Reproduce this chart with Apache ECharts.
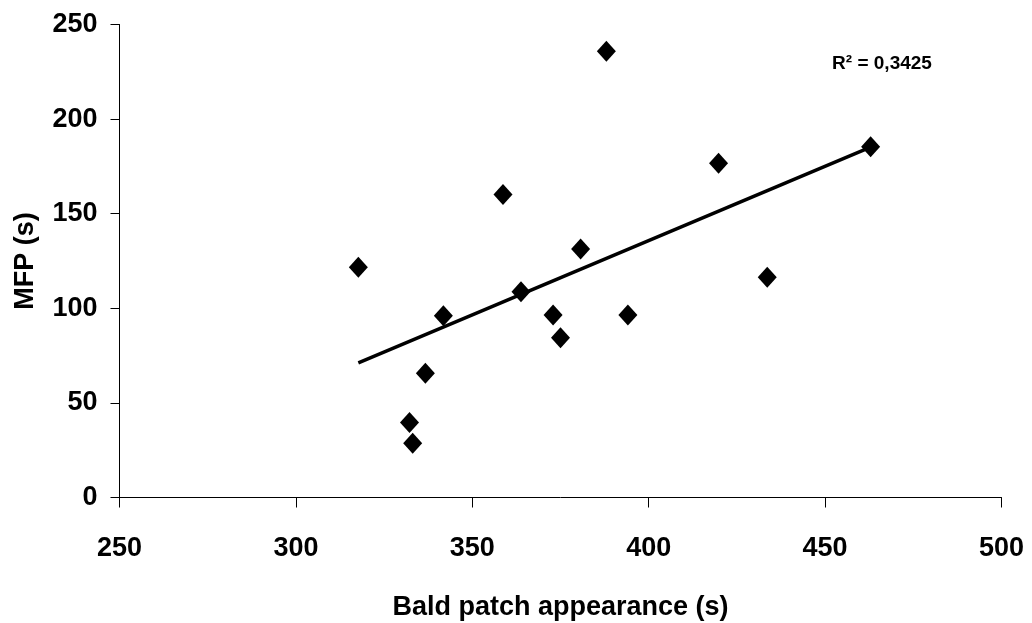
<!DOCTYPE html>
<html>
<head>
<meta charset="utf-8">
<title>MFP vs Bald patch appearance</title>
<script src="https://cdn.jsdelivr.net/npm/echarts@6/dist/echarts.min.js"></script>
<style>
  html, body { margin: 0; padding: 0; background: #fff; }
  #chart { width: 1032px; height: 623px; }
</style>
</head>
<body>
<div id="chart"></div>
<script>
// Bald patch appearance time (s) and MFP (s) for each animal
const baldPatch = [317.7, 341.8, 363.8, 380.7, 372.9, 375.0, 336.7, 332.2, 333.1, 388.0, 358.7, 419.8, 433.6, 394.1, 462.9];
const mfp       = [121.7,  96.0, 108.8, 131.3,  96.5,  84.5,  65.7,  39.6,  28.7, 235.9, 160.2, 176.6, 116.4,  96.5, 185.4];

// Linear trend line end points (x, y)
const trendX = [317.7, 462.9];
const trendY = [71.1, 185.2];
const r2Text = 'R² = 0,3425';

// Axis ranges and tick steps
const xAxisRange = [250, 500, 50];
const yAxisRange = [0, 250, 50];

const FONT = "'Liberation Sans', Arial, Helvetica, sans-serif";

const points = baldPatch.map((x, i) => [x, mfp[i]]);
const trend = trendX.map((x, i) => [x, trendY[i]]);

const chart = echarts.init(document.getElementById('chart'), null, { renderer: 'canvas' });
chart.setOption({
  animation: false,
  backgroundColor: '#ffffff',
  grid: {
    left: 119.5, right: 30.5, top: 24.5, bottom: 125.5,
    containLabel: false,
    outerBoundsMode: 'none'
  },
  xAxis: {
    type: 'value',
    min: xAxisRange[0], max: xAxisRange[1], interval: xAxisRange[2],
    name: 'Bald patch appearance (s)',
    nameLocation: 'middle',
    nameGap: 97,
    nameTextStyle: { fontFamily: FONT, fontWeight: 'bold', fontSize: 27, color: '#000' },
    axisLine: { show: true, onZero: false, lineStyle: { color: '#000', width: 1 } },
    axisTick: { show: true, inside: false, length: 10, lineStyle: { color: '#000', width: 1 } },
    axisLabel: { margin: 38, fontFamily: FONT, fontWeight: 'bold', fontSize: 27, color: '#000' },
    splitLine: { show: false }
  },
  yAxis: {
    type: 'value',
    min: yAxisRange[0], max: yAxisRange[1], interval: yAxisRange[2],
    name: 'MFP (s)',
    nameLocation: 'middle',
    nameGap: 80,
    nameRotate: 90,
    nameTextStyle: { fontFamily: FONT, fontWeight: 'bold', fontSize: 27, color: '#000' },
    axisLine: { show: true, onZero: false, lineStyle: { color: '#000', width: 1 } },
    axisTick: { show: true, inside: false, length: 9, lineStyle: { color: '#000', width: 1 } },
    axisLabel: { margin: 22, fontFamily: FONT, fontWeight: 'bold', fontSize: 27, color: '#000' },
    splitLine: { show: false }
  },
  series: [
    {
      type: 'line',
      data: trend,
      showSymbol: false,
      symbol: 'none',
      lineStyle: { color: '#000', width: 3.5 },
      z: 2
    },
    {
      type: 'scatter',
      data: points,
      symbol: 'diamond',
      symbolSize: [19, 21],
      itemStyle: { color: '#000', opacity: 1 },
      z: 3
    }
  ],
  graphic: [
    {
      type: 'text',
      x: 882, y: 64,
      style: {
        text: r2Text,
        fontFamily: FONT, fontWeight: 'bold', fontSize: 19,
        fill: '#000',
        align: 'center', verticalAlign: 'middle'
      }
    }
  ]
});
</script>
</body>
</html>
